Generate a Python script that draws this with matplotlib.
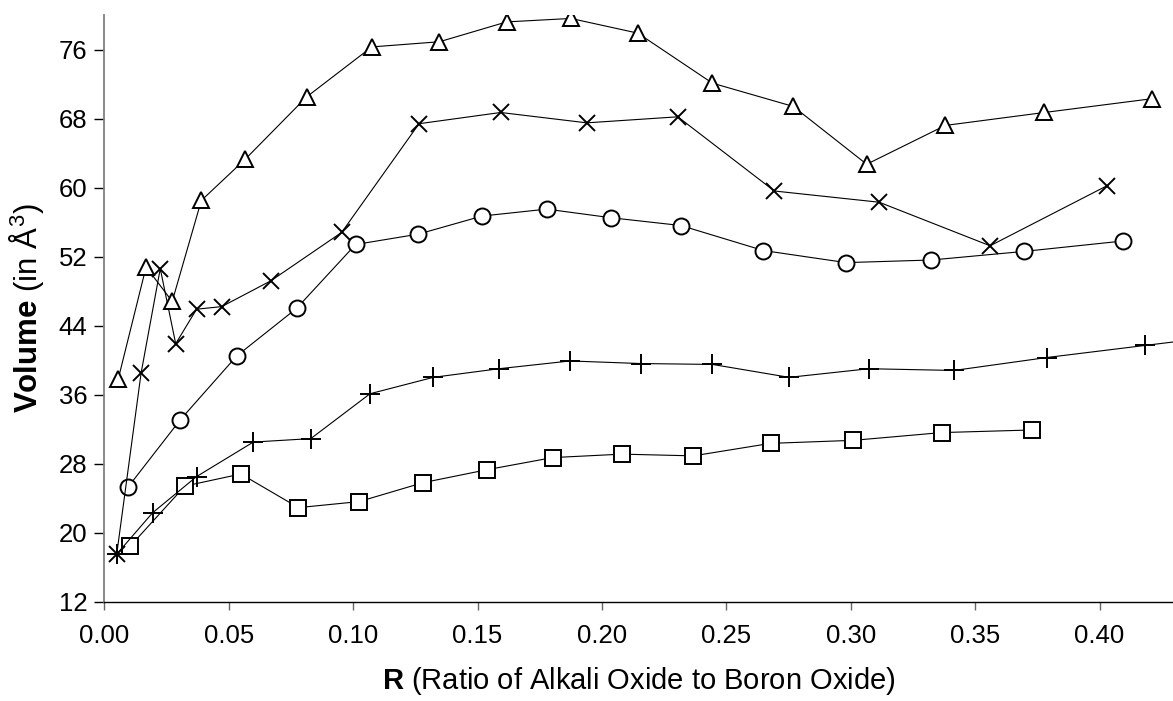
import numpy as np
import matplotlib
matplotlib.use("Agg")
import matplotlib.pyplot as plt

plt.rcParams['font.family'] = ['Liberation Sans', 'DejaVu Sans']
plt.rcParams['mathtext.fontset'] = 'custom'
plt.rcParams['mathtext.rm'] = 'Liberation Sans'
plt.rcParams['mathtext.bf'] = 'Liberation Sans:bold'

# triangle series
r_tri = [0.0056, 0.0168, 0.0273, 0.0390, 0.0567, 0.0813, 0.1075, 0.1347, 0.1617,
         0.1875, 0.2144, 0.2444, 0.2769, 0.3064, 0.3380, 0.3778, 0.4211]
v_tri = [37.8, 50.8, 46.8, 58.5, 63.3, 70.5, 76.3, 76.9, 79.2,
         79.6, 77.9, 72.1, 69.4, 62.7, 67.2, 68.7, 70.3]

# cross series
r_x = [0.0050, 0.0148, 0.0225, 0.0287, 0.0371, 0.0472, 0.0670, 0.0954,
       0.1265, 0.1593, 0.1939, 0.2305, 0.2693, 0.3114, 0.3560, 0.4029]
v_x = [17.5, 38.5, 50.6, 41.9, 45.9, 46.2, 49.2, 54.8,
       67.4, 68.7, 67.5, 68.2, 59.6, 58.3, 53.25, 60.2]

# circle series
r_o = [0.0096, 0.0306, 0.0533, 0.0773, 0.1010, 0.1262, 0.1519, 0.1778,
       0.2037, 0.2317, 0.2649, 0.2981, 0.3323, 0.3697, 0.4093]
v_o = [25.3, 33.1, 40.5, 46.0, 53.4, 54.6, 56.7, 57.5,
       56.5, 55.6, 52.7, 51.3, 51.6, 52.6, 53.8]

# plus series
r_p = [0.0050, 0.0194, 0.0371, 0.0599, 0.0830, 0.1068, 0.1322, 0.1586, 0.1872,
       0.2156, 0.2444, 0.2752, 0.3073, 0.3415, 0.3788, 0.4183, 0.4550]
v_p = [17.5, 22.3, 26.5, 30.5, 30.9, 36.1, 38.0, 39.0, 39.9,
       39.6, 39.5, 38.0, 39.0, 38.8, 40.3, 41.7, 43.0]

# square series
r_s = [0.0103, 0.0324, 0.0549, 0.0780, 0.1024, 0.1282, 0.1539, 0.1802,
       0.2080, 0.2367, 0.2678, 0.3010, 0.3366, 0.3727]
v_s = [18.4, 25.4, 26.8, 22.9, 23.6, 25.8, 27.3, 28.7,
       29.1, 28.9, 30.35, 30.7, 31.6, 31.9]

x_ticks = [0.00, 0.05, 0.10, 0.15, 0.20, 0.25, 0.30, 0.35, 0.40]
y_ticks = [12, 20, 28, 36, 44, 52, 60, 68, 76]

fig = plt.figure(figsize=(11.73, 7.01), dpi=100)
ax = fig.add_axes([0.0889, 0.1417, 0.9111, 0.8369])

lw = 0.8
style = dict(color='black', linewidth=lw, markerfacecolor='white',
             markeredgecolor='black', markeredgewidth=1.4, clip_on=True)
ax.plot(r_s, v_s, marker='s', markersize=11, **style)
ax.plot(r_p, v_p, marker='+', markersize=15, **style)
ax.plot(r_o, v_o, marker='o', markersize=11.5, **style)
ax.plot(r_x, v_x, marker='x', markersize=11.5, **style)
ax.plot(r_tri, v_tri, marker='^', markersize=11.5, **style)

ax.set_xlim(0, 0.4295)
ax.set_ylim(12, 80)
ax.set_xticks(x_ticks)
ax.set_xticklabels(['%.2f' % t for t in x_ticks])
ax.set_yticks(y_ticks)

for s in ['top', 'right']:
    ax.spines[s].set_visible(False)
ax.spines['left'].set_color('#808080')
ax.spines['left'].set_linewidth(1.3)
ax.spines['bottom'].set_color('black')
ax.spines['bottom'].set_linewidth(1.0)

ax.tick_params(axis='y', direction='out', length=7, width=1, color='black',
               labelsize=18.5, pad=5)
ax.tick_params(axis='x', direction='out', length=6, width=1, color='#666666',
               labelsize=18.5, pad=10)

ax.set_xlabel(r'$\mathbf{R}$ (Ratio of Alkali Oxide to Boron Oxide)', fontsize=21, labelpad=12)
ax.set_ylabel(r'$\mathbf{Volume}$ (in Å$^{3}$)', fontsize=22.5, labelpad=9)

fig.savefig('out.png', dpi=100)
